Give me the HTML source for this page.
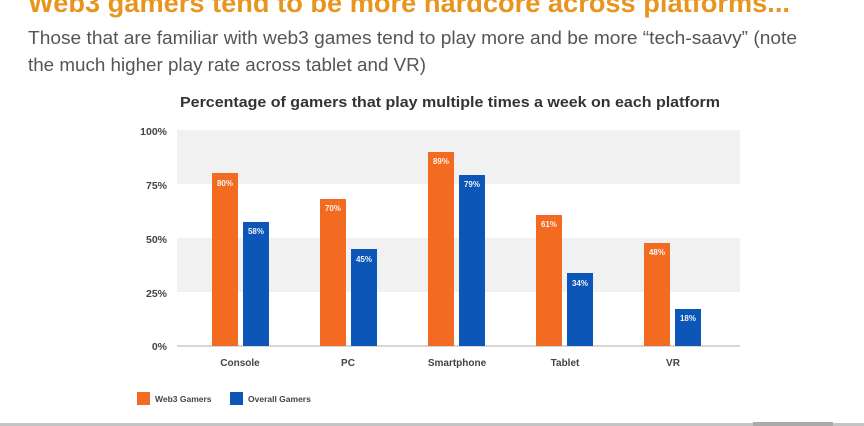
<!DOCTYPE html>
<html><head><style>
html,body{margin:0;padding:0;background:#fff;width:864px;height:426px;overflow:hidden}
svg{display:block}
</style></head><body>
<svg width="864" height="426" xmlns="http://www.w3.org/2000/svg" font-family="Liberation Sans, sans-serif">
<text x="28" y="12" font-size="27" font-weight="bold" fill="#e8951f" textLength="762" lengthAdjust="spacingAndGlyphs">Web3 gamers tend to be more hardcore across platforms...</text>
<text x="28" y="44" font-size="18" fill="#555" textLength="769" lengthAdjust="spacingAndGlyphs">Those that are familiar with web3 games tend to play more and be more “tech-saavy” (note</text>
<text x="28" y="71" font-size="18" fill="#555" textLength="398" lengthAdjust="spacingAndGlyphs">the much higher play rate across tablet and VR)</text>
<text x="180" y="107" font-size="15" font-weight="bold" fill="#333" textLength="540" lengthAdjust="spacingAndGlyphs">Percentage of gamers that play multiple times a week on each platform</text>
<rect x="177" y="130" width="563" height="54" fill="#f1f1f1"/>
<rect x="177" y="238" width="563" height="54" fill="#f1f1f1"/>
<line x1="177" y1="346" x2="740" y2="346" stroke="#c8c8c8" stroke-width="1.5"/>
<g font-size="10.5" font-weight="bold" fill="#444" text-anchor="end">
<text x="167" y="135">100%</text><text x="167" y="189">75%</text><text x="167" y="243">50%</text><text x="167" y="297">25%</text><text x="167" y="350">0%</text>
</g>
<g fill="#f26b21">
<rect x="212" y="173" width="26" height="173"/>
<rect x="320" y="199" width="26" height="147"/>
<rect x="428" y="152" width="26" height="194"/>
<rect x="536" y="215" width="26" height="131"/>
<rect x="644" y="243" width="26" height="103"/>
</g>
<g fill="#0c56b8">
<rect x="243" y="222" width="26" height="124"/>
<rect x="351" y="249" width="26" height="97"/>
<rect x="459" y="175" width="26" height="171"/>
<rect x="567" y="273" width="26" height="73"/>
<rect x="675" y="309" width="26" height="37"/>
</g>
<g font-size="8" font-weight="bold" fill="#fff" text-anchor="middle" opacity="0.92">
<text x="225" y="186">80%</text><text x="256" y="234">58%</text>
<text x="333" y="211">70%</text><text x="364" y="262">45%</text>
<text x="441" y="164">89%</text><text x="472" y="187">79%</text>
<text x="549" y="227">61%</text><text x="580" y="286">34%</text>
<text x="657" y="255">48%</text><text x="688" y="321">18%</text>
</g>
<g font-size="10" font-weight="bold" fill="#444" text-anchor="middle">
<text x="240" y="366">Console</text><text x="348" y="366">PC</text><text x="457" y="366">Smartphone</text><text x="565" y="366">Tablet</text><text x="673" y="366">VR</text>
</g>
<rect x="137" y="392" width="13" height="13" fill="#f26b21"/>
<text x="155" y="402" font-size="8.5" font-weight="bold" fill="#444">Web3 Gamers</text>
<rect x="230" y="392" width="13" height="13" fill="#0c56b8"/>
<text x="248" y="402" font-size="8.5" font-weight="bold" fill="#444">Overall Gamers</text>
<rect x="0" y="423" width="864" height="3" fill="#c4c4c4"/>
<rect x="753" y="422" width="80" height="4" fill="#aaa"/>
</svg>
</body></html>
